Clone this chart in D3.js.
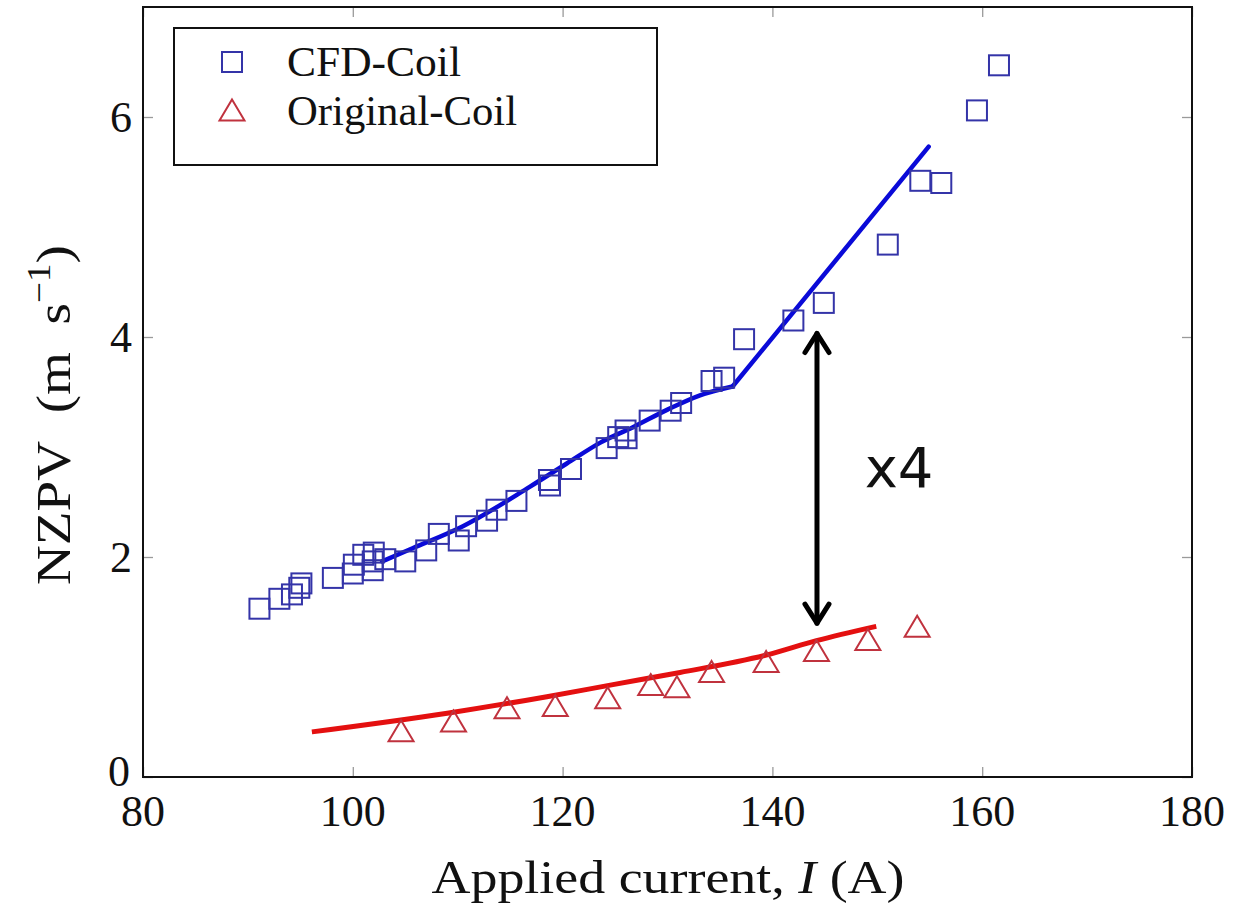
<!DOCTYPE html>
<html>
<head>
<meta charset="utf-8">
<script src="https://cdn.jsdelivr.net/npm/d3@7"></script>
<style>
  body { margin: 0; background: #fff; }
  text { font-family: "Liberation Serif", serif; fill: #111; }
</style>
</head>
<body>
<div id="chart"></div>
<script>
const settings = {
  width: 1242,
  height: 906,
  left: 143,
  right: 1192,
  top: 7,
  bottom: 777,
  squareSize: 20,
  triW: 25,
  triH: 21,
};

// CFD-Coil measurements
const cfdX = [91.1, 93.0, 94.2, 94.9, 95.1, 98.1, 100.0, 100.1, 101.0, 101.9, 102.0, 101.9, 103.1, 105.0,
  107.0, 108.2, 110.1, 110.8, 112.8, 113.7, 115.6, 118.7, 118.8, 120.8, 124.2, 125.3, 126.0, 126.1,
  128.3, 130.3, 131.3, 134.2, 135.4, 137.3, 142.0, 144.9, 151.0, 154.1, 156.1, 159.5, 161.6];
const cfdY = [1.53, 1.62, 1.66, 1.72, 1.76, 1.81, 1.85, 1.93, 2.02, 1.88, 2.04, 1.96, 1.98, 1.96,
  2.06, 2.21, 2.15, 2.28, 2.33, 2.43, 2.51, 2.70, 2.65, 2.80, 2.99, 3.09, 3.15, 3.08,
  3.24, 3.33, 3.40, 3.60, 3.63, 3.98, 4.15, 4.31, 4.84, 5.42, 5.40, 6.06, 6.47];

// Original-Coil measurements
const origX = [104.6, 109.6, 114.7, 119.3, 124.3, 128.4, 130.9, 134.2, 139.4, 144.2, 149.1, 153.8];
const origY = [0.42, 0.51, 0.63, 0.65, 0.72, 0.84, 0.82, 0.96, 1.05, 1.15, 1.25, 1.37];

// fitted trend lines (CFD: smooth part up to the knee, then a straight part)
const cfdFitX = [102.8, 105.7, 110.5, 116.9, 120.4, 123.6, 126.7, 130.0, 133.1, 136.2];
const cfdFitY = [1.96, 2.08, 2.28, 2.64, 2.85, 3.04, 3.18, 3.34, 3.47, 3.55];
const cfdSteepX = [136.2, 154.9];
const cfdSteepY = [3.55, 5.73];
const origFitX = [96.1, 109.0, 118.5, 124.8, 131.2, 139.5, 144.2, 149.9];
const origFitY = [0.41, 0.58, 0.73, 0.84, 0.95, 1.11, 1.24, 1.37];

const xTicks = [80, 100, 120, 140, 160, 180];
const yTicks = [0, 2, 4, 6];

const x = d3.scaleLinear().domain([80, 180]).range([settings.left, settings.right]);
const y = d3.scaleLinear().domain([0, 7]).range([settings.bottom, settings.top]);

const svg = d3.select("#chart")
  .append("svg")
  .attr("width", settings.width)
  .attr("height", settings.height);

svg.append("rect").attr("width", settings.width).attr("height", settings.height).attr("fill", "#fff");

// inner gray ticks on all four sides
function innerTicks(g) {
  g.select(".domain").remove();
  g.selectAll(".tick line").attr("stroke", "#9a9a9a").attr("stroke-width", 1.3);
  g.selectAll(".tick text").remove();
}
svg.append("g").attr("transform", `translate(0,${settings.bottom})`)
  .call(d3.axisBottom(x).tickValues(xTicks).tickSize(-10)).call(innerTicks);
svg.append("g").attr("transform", `translate(0,${settings.top})`)
  .call(d3.axisTop(x).tickValues(xTicks).tickSize(-10)).call(innerTicks);
svg.append("g").attr("transform", `translate(${settings.left},0)`)
  .call(d3.axisLeft(y).tickValues(yTicks).tickSize(-10)).call(innerTicks);
svg.append("g").attr("transform", `translate(${settings.right},0)`)
  .call(d3.axisRight(y).tickValues(yTicks).tickSize(-10)).call(innerTicks);

// tick labels
svg.append("g")
  .selectAll("text")
  .data(xTicks)
  .join("text")
  .attr("x", d => x(d))
  .attr("y", settings.bottom + 49)
  .attr("text-anchor", "middle")
  .attr("font-size", 44)
  .text(d => d);

svg.append("g")
  .selectAll("text")
  .data(yTicks)
  .join("text")
  .attr("x", d => settings.left - (d === 0 ? 13 : 11))
  .attr("y", d => y(d) + (d === 0 ? 9 : 15))
  .attr("text-anchor", "end")
  .attr("font-size", 44)
  .text(d => d);

// axis titles
const xTitle = svg.append("text")
  .attr("x", 668)
  .attr("y", 893)
  .attr("text-anchor", "middle")
  .attr("font-size", 46)
  .attr("textLength", 473)
  .attr("lengthAdjust", "spacingAndGlyphs");
xTitle.append("tspan").text("Applied current, ");
xTitle.append("tspan").attr("font-style", "italic").text("I");
xTitle.append("tspan").text(" (A)");

const yTitle = svg.append("text")
  .attr("transform", "translate(70,415) rotate(-90)")
  .attr("text-anchor", "middle")
  .attr("font-size", 49)
  .attr("textLength", 340)
  .attr("lengthAdjust", "spacingAndGlyphs");
yTitle.append("tspan").text("NZPV\u2002(m\u2002s");
yTitle.append("tspan").attr("font-size", 33).attr("dy", -20).text("\u22121");
yTitle.append("tspan").attr("dy", 20).text(")");

// plot clip
svg.append("clipPath").attr("id", "plot-clip")
  .append("rect")
  .attr("x", settings.left).attr("y", settings.top)
  .attr("width", settings.right - settings.left)
  .attr("height", settings.bottom - settings.top);

const plot = svg.append("g").attr("clip-path", "url(#plot-clip)");

const line = d3.line().x(d => x(d[0])).y(d => y(d[1])).curve(d3.curveMonotoneX);

plot.append("path")
  .datum(d3.zip(cfdFitX, cfdFitY))
  .attr("d", line)
  .attr("fill", "none")
  .attr("stroke", "#0a0ad8")
  .attr("stroke-width", 4.5)
  .attr("stroke-linecap", "round");

plot.append("path")
  .datum(d3.zip(cfdSteepX, cfdSteepY))
  .attr("d", line)
  .attr("fill", "none")
  .attr("stroke", "#0a0ad8")
  .attr("stroke-width", 4.5)
  .attr("stroke-linecap", "round");

plot.append("path")
  .datum(d3.zip(origFitX, origFitY))
  .attr("d", line)
  .attr("fill", "none")
  .attr("stroke", "#e41010")
  .attr("stroke-width", 5)
  .attr("stroke-linejoin", "round");

const s = settings.squareSize;
plot.append("g")
  .selectAll("rect")
  .data(d3.zip(cfdX, cfdY))
  .join("rect")
  .attr("x", d => x(d[0]) - s / 2)
  .attr("y", d => y(d[1]) - s / 2)
  .attr("width", s)
  .attr("height", s)
  .attr("fill", "none")
  .attr("stroke", "#3434a8")
  .attr("stroke-width", 2);

const tri = `M0,${-settings.triH / 2}L${settings.triW / 2},${settings.triH / 2}L${-settings.triW / 2},${settings.triH / 2}Z`;
plot.append("g")
  .selectAll("path")
  .data(d3.zip(origX, origY))
  .join("path")
  .attr("d", tri)
  .attr("transform", d => `translate(${x(d[0])},${y(d[1])})`)
  .attr("fill", "none")
  .attr("stroke", "#c0323e")
  .attr("stroke-width", 2);

// x4 annotation arrow
const arrowX = x(144.25);
const arrowTop = y(4.05);
const arrowBot = y(1.38);
const ann = svg.append("g").attr("stroke", "#000").attr("stroke-width", 5).attr("fill", "none")
  .attr("stroke-linecap", "round").attr("stroke-linejoin", "round");
ann.append("line").attr("x1", arrowX).attr("x2", arrowX).attr("y1", arrowTop + 2).attr("y2", arrowBot - 2);
ann.append("path").attr("d", `M${arrowX - 12},${arrowTop + 21}L${arrowX},${arrowTop + 2}L${arrowX + 12},${arrowTop + 21}`);
ann.append("path").attr("d", `M${arrowX - 12},${arrowBot - 21}L${arrowX},${arrowBot - 2}L${arrowX + 12},${arrowBot - 21}`);

svg.append("text")
  .attr("x", x(148.8))
  .attr("y", y(2.64))
  .attr("font-size", 56)
  .style("font-family", "'DejaVu Sans', sans-serif")
  .text("x4");

// frame
svg.append("rect")
  .attr("x", settings.left).attr("y", settings.top)
  .attr("width", settings.right - settings.left)
  .attr("height", settings.bottom - settings.top)
  .attr("fill", "none")
  .attr("stroke", "#111")
  .attr("stroke-width", 2);

// legend
const legend = svg.append("g");
legend.append("rect")
  .attr("x", 174).attr("y", 28).attr("width", 483).attr("height", 137)
  .attr("fill", "#fff").attr("stroke", "#111").attr("stroke-width", 2);
legend.append("rect")
  .attr("x", 232 - s / 2).attr("y", 62 - s / 2).attr("width", s).attr("height", s)
  .attr("fill", "none").attr("stroke", "#3434a8").attr("stroke-width", 2);
legend.append("path")
  .attr("d", tri).attr("transform", "translate(232,110)")
  .attr("fill", "none").attr("stroke", "#c0323e").attr("stroke-width", 2);
legend.append("text").attr("x", 287).attr("y", 76).attr("font-size", 42)
  .attr("textLength", 174).attr("lengthAdjust", "spacingAndGlyphs").text("CFD-Coil");
legend.append("text").attr("x", 287).attr("y", 125).attr("font-size", 42)
  .attr("textLength", 230).attr("lengthAdjust", "spacingAndGlyphs").text("Original-Coil");
</script>
</body>
</html>
